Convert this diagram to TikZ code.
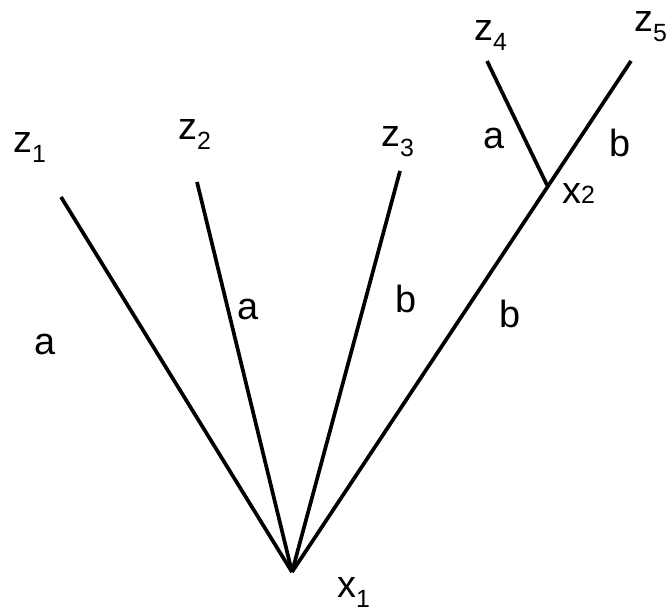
\documentclass[tikz,border=0pt]{standalone}
\usepackage{fontspec}
\setmainfont{Liberation Sans}
\newcommand\mysub[1]{\raisebox{-10bp}{\fontsize{25}{25}\selectfont #1}}
\begin{document}
\begin{tikzpicture}[x=1bp,y=-1bp,
  edge/.style={line width=3.7bp,black},
  lbl/.style={inner sep=0pt,font=\fontsize{38}{42}\selectfont},
  vlabel/.style={inner sep=0pt,anchor=base west,font=\fontsize{38}{42}\selectfont}]
\useasboundingbox (0,0) rectangle (667,607);
\coordinate (x1) at (292,572);
\coordinate (x2) at (547,185);
\coordinate (e1) at (61,197);
\coordinate (e2) at (197,182);
\coordinate (e3) at (400,171);
\coordinate (e4) at (487,61);
\coordinate (e5) at (631,61);
\draw[edge] (e1) -- (x1);
\draw[edge] (e2) -- (x1);
\draw[edge] (e3) -- (x1);
\draw[edge] (e5) -- (x1);
\draw[edge] (e4) -- (x2);
\node[vlabel] (z1) at (13,153) {z\mysub{1}};
\node[vlabel] (z2) at (178,140) {z\mysub{2}};
\node[vlabel] (z3) at (381,147) {z\mysub{3}};
\node[vlabel] (z4) at (474,41) {z\mysub{4}};
\node[vlabel] (z5) at (634,32) {z\mysub{5}};
\node[vlabel] (lx1) at (337,597) {x\mysub{1}};
\node[vlabel] (lx2) at (562,203) {x{\fontsize{25}{25}\selectfont 2}};
\node[lbl] (a1) at (45,344) {a};
\node[lbl] (a2) at (248,309) {a};
\node[lbl] (b3) at (406,299) {b};
\node[lbl] (b4) at (510,314) {b};
\node[lbl] (a5) at (494,138) {a};
\node[lbl] (b6) at (620,143) {b};
\end{tikzpicture}
\end{document}
